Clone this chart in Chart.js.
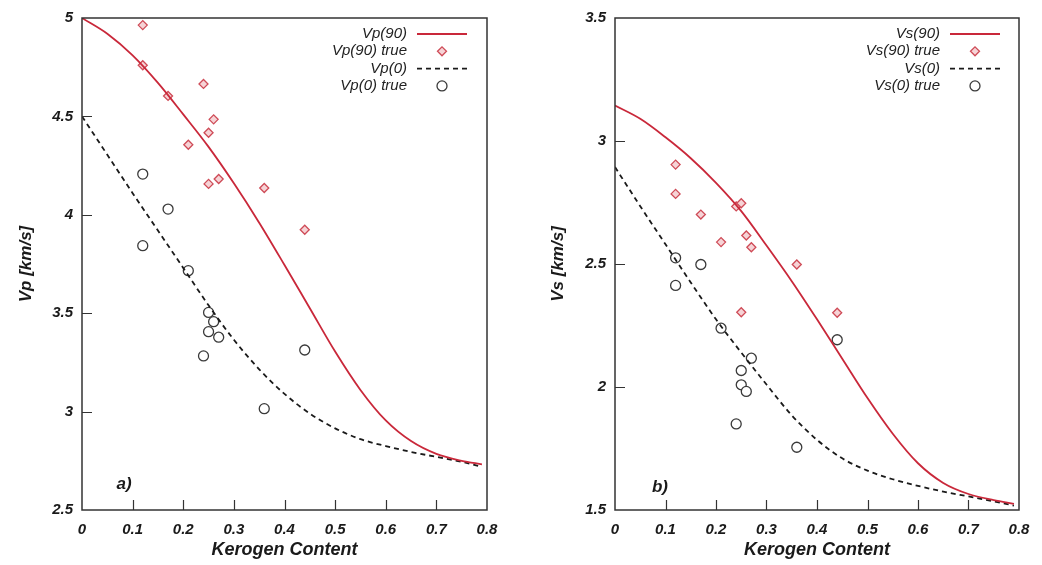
<!DOCTYPE html>
<html>
<head>
<meta charset="utf-8">
<script src="https://cdn.jsdelivr.net/npm/chart.js@4.4.1/dist/chart.umd.min.js"></script>
<style>
  html, body { margin: 0; padding: 0; background: #fff; }
  .panel { position: absolute; top: 0; height: 565px; }
  #panelA { left: 0; width: 520px; }
  #panelB { left: 520px; width: 522px; }
</style>
</head>
<body>
<div class="panel" id="panelA"><canvas id="chartA"></canvas></div>
<div class="panel" id="panelB"><canvas id="chartB"></canvas></div>
<script>
// x ticks shared by both panels
const xTickValues = [0, 0.1, 0.2, 0.3, 0.4, 0.5, 0.6, 0.7, 0.8];
const vpTickValues = [2.5, 3, 3.5, 4, 4.5, 5];
const vsTickValues = [1.5, 2, 2.5, 3, 3.5];

const curveX = [0, 0.05, 0.1, 0.15, 0.2, 0.25, 0.3, 0.35, 0.4, 0.45, 0.5, 0.55, 0.6, 0.65, 0.7, 0.75, 0.79];

// panel a) - Vp model curves
const vp90Y = [5.0, 4.92, 4.81, 4.67, 4.51, 4.345, 4.16, 3.96, 3.745, 3.525, 3.305, 3.11, 2.955, 2.85, 2.785, 2.75, 2.732];
const vp0Y = [4.5, 4.305, 4.11, 3.92, 3.73, 3.54, 3.365, 3.215, 3.09, 2.99, 2.915, 2.86, 2.825, 2.795, 2.77, 2.745, 2.72];

// panel a) - measured points
const vp90TrueX = [0.12, 0.12, 0.17, 0.24, 0.26, 0.25, 0.21, 0.25, 0.27, 0.36, 0.44];
const vp90TrueY = [4.964, 4.76, 4.604, 4.665, 4.485, 4.417, 4.356, 4.157, 4.182, 4.136, 3.924];
const vp0TrueX = [0.12, 0.17, 0.12, 0.21, 0.25, 0.26, 0.25, 0.27, 0.24, 0.44, 0.36];
const vp0TrueY = [4.207, 4.029, 3.843, 3.716, 3.504, 3.457, 3.406, 3.378, 3.283, 3.313, 3.015];

// panel b) - Vs model curves
const vs90Y = [3.144, 3.09, 3.015, 2.93, 2.83, 2.715, 2.575, 2.43, 2.275, 2.115, 1.955, 1.81, 1.69, 1.61, 1.565, 1.54, 1.525];
const vs0Y = [2.894, 2.735, 2.58, 2.425, 2.275, 2.14, 2.01, 1.885, 1.785, 1.71, 1.66, 1.625, 1.598, 1.575, 1.555, 1.535, 1.518];

// panel b) - measured points
const vs90TrueX = [0.12, 0.12, 0.17, 0.21, 0.24, 0.25, 0.26, 0.27, 0.36, 0.25, 0.44];
const vs90TrueY = [2.904, 2.785, 2.701, 2.589, 2.734, 2.747, 2.616, 2.568, 2.498, 2.304, 2.302];
const vs0TrueX = [0.12, 0.17, 0.12, 0.21, 0.27, 0.25, 0.25, 0.26, 0.24, 0.36, 0.44];
const vs0TrueY = [2.525, 2.498, 2.413, 2.239, 2.117, 2.067, 2.009, 1.982, 1.850, 1.755, 2.192];

const FONT = "'Liberation Sans', Arial, Helvetica, sans-serif";
const RED = '#c9283a';
const INK = '#1a1a1a';

function pts(xs, ys) {
    return xs.map((x, i) => ({ x: x, y: ys[i] }));
}

function curve(label, xs, ys, color, dash) {
    return {
        label: label,
        data: pts(xs, ys),
        showLine: true,
        borderColor: color,
        borderWidth: 1.8,
        borderDash: dash,
        pointRadius: 0,
        cubicInterpolationMode: 'monotone',
        fill: false
    };
}

function markers(label, xs, ys, style, border, bg, radius) {
    return {
        label: label,
        data: pts(xs, ys),
        showLine: false,
        pointStyle: style,
        pointRadius: radius,
        pointBorderWidth: 1.3,
        borderColor: border,
        backgroundColor: bg,
        pointBorderColor: border,
        pointBackgroundColor: bg
    };
}

// frame box + inward ticks + panel tag + custom legend
const decorPlugin = {
    id: 'decor',
    afterDraw(chart, args, opts) {
        const ctx = chart.ctx;
        const a = chart.chartArea;
        const xs = chart.scales.x, ys = chart.scales.y;
        ctx.save();
        ctx.strokeStyle = '#333';
        ctx.lineWidth = 1.5;
        ctx.setLineDash([]);
        ctx.strokeRect(a.left, a.top, a.right - a.left, a.bottom - a.top);

        ctx.lineWidth = 1.2;
        ctx.beginPath();
        xs.ticks.forEach(t => {
            if (t.value <= xs.min || t.value >= xs.max) return;
            const px = Math.round(xs.getPixelForValue(t.value)) + 0.5;
            ctx.moveTo(px, a.bottom);
            ctx.lineTo(px, a.bottom - 10);
        });
        ys.ticks.forEach(t => {
            if (t.value <= ys.min || t.value >= ys.max) return;
            const py = Math.round(ys.getPixelForValue(t.value)) + 0.5;
            ctx.moveTo(a.left, py);
            ctx.lineTo(a.left + 10, py);
        });
        ctx.stroke();

        // panel tag
        ctx.fillStyle = INK;
        ctx.font = 'italic bold 17px ' + FONT;
        ctx.textAlign = 'center';
        ctx.textBaseline = 'middle';
        ctx.fillText(opts.tag, opts.tagX, opts.tagY);

        // legend
        ctx.font = 'italic 15px ' + FONT;
        ctx.textAlign = 'right';
        chart.data.datasets.forEach((ds, i) => {
            const y = opts.legendTop + i * 17.3;
            ctx.fillStyle = '#222';
            ctx.fillText(ds.label, opts.textRight, y);
            if (ds.showLine) {
                ctx.strokeStyle = ds.borderColor;
                ctx.lineWidth = ds.borderWidth;
                ctx.setLineDash(ds.borderDash || []);
                ctx.beginPath();
                ctx.moveTo(opts.lineStart, y);
                ctx.lineTo(opts.lineEnd, y);
                ctx.stroke();
                ctx.setLineDash([]);
            } else {
                ctx.strokeStyle = ds.pointBorderColor;
                ctx.fillStyle = ds.pointBackgroundColor;
                ctx.lineWidth = ds.pointBorderWidth;
                Chart.helpers.drawPoint(ctx, {
                    pointStyle: ds.pointStyle,
                    radius: ds.pointRadius,
                    rotation: 0,
                    borderWidth: ds.pointBorderWidth
                }, (opts.lineStart + opts.lineEnd) / 2, y);
            }
        });
        ctx.restore();
    }
};

function makeChart(id, cfg) {
    const tickFont = { family: FONT, size: 15, weight: 'bold', style: 'italic' };
    const titleFont = { family: FONT, size: 18, weight: 'bold', style: 'italic' };
    return new Chart(document.getElementById(id), {
        type: 'scatter',
        data: { datasets: cfg.datasets },
        plugins: [decorPlugin],
        options: {
            responsive: true,
            maintainAspectRatio: false,
            animation: false,
            layout: { padding: { left: 0, top: cfg.top, right: cfg.right, bottom: 0 } },
            plugins: {
                legend: { display: false },
                tooltip: { enabled: false },
                decor: cfg.decor
            },
            scales: {
                x: {
                    type: 'linear',
                    min: 0,
                    max: 0.8,
                    afterBuildTicks: s => { s.ticks = xTickValues.map(v => ({ value: v })); },
                    afterFit: s => { s.height = 55; },
                    grid: { display: false, drawTicks: false },
                    border: { display: false },
                    ticks: { font: tickFont, color: INK, padding: 11, callback: v => String(v) },
                    title: {
                        display: true,
                        text: 'Kerogen Content',
                        font: titleFont,
                        color: INK,
                        padding: { top: 0, bottom: 4 }
                    }
                },
                y: {
                    type: 'linear',
                    min: cfg.yMin,
                    max: cfg.yMax,
                    afterBuildTicks: s => { s.ticks = cfg.yTicks.map(v => ({ value: v })); },
                    afterFit: s => { s.width = cfg.yWidth; },
                    grid: { display: false, drawTicks: false },
                    border: { display: false },
                    ticks: { font: tickFont, color: INK, padding: 9, callback: v => String(v) },
                    title: {
                        display: true,
                        text: cfg.yTitle,
                        font: { family: FONT, size: 17, weight: 'bold', style: 'italic' },
                        color: INK,
                        padding: { top: cfg.yTitlePad, bottom: 0 }
                    }
                }
            }
        }
    });
}

makeChart('chartA', {
    datasets: [
        curve('Vp(90)', curveX, vp90Y, RED, []),
        markers('Vp(90) true', vp90TrueX, vp90TrueY, 'rectRot', '#cf4b57', '#f6d3d6', 4.5),
        curve('Vp(0)', curveX, vp0Y, INK, [5, 4]),
        markers('Vp(0) true', vp0TrueX, vp0TrueY, 'circle', '#3a3a3a', '#ffffff', 5)
    ],
    top: 18, right: 33, yWidth: 82,
    yMin: 2.5, yMax: 5, yTicks: vpTickValues,
    yTitle: 'Vp [km/s]', yTitlePad: 16,
    decor: { tag: 'a)', tagX: 124, tagY: 484, legendTop: 34, textRight: 407, lineStart: 417, lineEnd: 467 }
});

makeChart('chartB', {
    datasets: [
        curve('Vs(90)', curveX, vs90Y, RED, []),
        markers('Vs(90) true', vs90TrueX, vs90TrueY, 'rectRot', '#cf4b57', '#f6d3d6', 4.5),
        curve('Vs(0)', curveX, vs0Y, INK, [5, 4]),
        markers('Vs(0) true', vs0TrueX, vs0TrueY, 'circle', '#3a3a3a', '#ffffff', 5)
    ],
    top: 17.5, right: 23, yWidth: 95,
    yMin: 1.5, yMax: 3.5, yTicks: vsTickValues,
    yTitle: 'Vs [km/s]', yTitlePad: 28,
    decor: { tag: 'b)', tagX: 140, tagY: 487, legendTop: 34, textRight: 420, lineStart: 430, lineEnd: 480 }
});
</script>
</body>
</html>
